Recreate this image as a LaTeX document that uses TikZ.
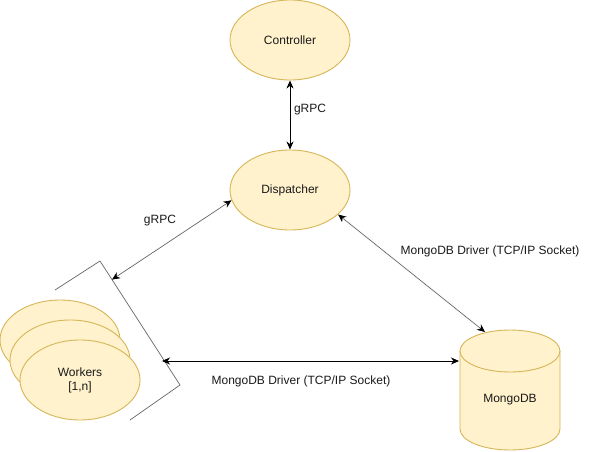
\documentclass[tikz,border=0pt]{standalone}
\usepackage{fontspec}
\setmainfont{Liberation Sans}
\usetikzlibrary{shapes.geometric,arrows.meta,calc}
\definecolor{yfill}{HTML}{FFF2CC}
\definecolor{ydraw}{HTML}{D6B656}
\definecolor{lgray}{HTML}{666666}
\definecolor{txt}{HTML}{1A1A1A}
\begin{document}
\begin{tikzpicture}[x=1pt,y=1pt,
  font=\fontsize{12}{14}\selectfont, text=txt,
  blob/.style={ellipse,draw=ydraw,fill=yfill,line width=0.9pt,minimum width=120pt,minimum height=80pt,inner sep=0pt,align=center},
  dbl/.style={{Stealth[length=8pt,width=7pt,inset=2.5pt,color=black]}-{Stealth[length=8pt,width=7pt,inset=2.5pt,color=black]}},
  blackline/.style={dbl,draw=black,line width=0.9pt},
  grayline/.style={dbl,draw=lgray,line width=0.7pt},
  lbl/.style={inner sep=1pt}]
\useasboundingbox (0,0) rectangle (591,451);
\fill[white] (0,0) rectangle (591,451);
% nodes
\node[blob] (ctrl) at (290,411) {Controller};
\node[blob] (disp) at (290,261) {Dispatcher};
\node[blob] (w1) at (60,111) {};
\node[blob] (w2) at (70,91) {};
\node[blob] (w3) at (80,71) {Workers\\{}[1,n]};
% MongoDB cylinder
\path[fill=yfill,draw=ydraw,line width=0.9pt]
  (460,100) -- (460,22) arc[start angle=180,end angle=360,x radius=50,y radius=21]
  -- (560,100) arc[start angle=0,end angle=180,x radius=50,y radius=21] -- cycle;
\draw[ydraw,line width=0.9pt] (460,100) arc[start angle=180,end angle=360,x radius=50,y radius=21];
\node[lbl] (mongo) at (510,51) {MongoDB};
\coordinate (mtop) at (485,119);
\coordinate (mleft) at (459,90);
% bracket
\coordinate (b1) at (55,161);
\coordinate (b2) at (100,190);
\coordinate (b3) at (180,66);
\coordinate (b4) at (130,31);
\draw[lgray,line width=0.7pt] (b1) -- (b2) -- (b3) -- (b4);
\coordinate (bg) at ($(b2)!0.15!(b3)$);
\coordinate (bm) at (162,90);
% connectors
\draw[blackline] (ctrl.south) -- (disp.north);
\draw[grayline] (disp.190) -- (bg);
\draw[grayline] (disp.333) -- (mtop);
\draw[blackline] (bm) -- (mleft);
% labels
\node[lbl] (l1) at (310,341) {gRPC};
\node[lbl] (l2) at (160,230) {gRPC};
\node[lbl] (l3) at (490,200) {MongoDB Driver (TCP/IP Socket)};
\node[lbl] (l4) at (301,70) {MongoDB Driver (TCP/IP Socket)};
\end{tikzpicture}
\end{document}
